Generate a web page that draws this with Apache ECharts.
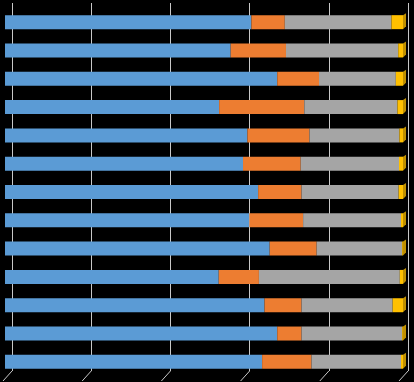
<!DOCTYPE html>
<html><head><meta charset="utf-8">
<script src="https://cdn.jsdelivr.net/npm/echarts@6/dist/echarts.min.js"></script>
<style>html,body{margin:0;padding:0;background:#000;}#c{width:414px;height:382px;}</style>
</head><body><div id="c"></div>
<script>
const categories = ["1","2","3","4","5","6","7","8","9","10","11","12","13"];
const blueValues   = [61.9, 56.7, 68.4, 53.8, 60.9, 59.8, 63.6, 61.4, 66.5, 53.7, 65.2, 68.4, 64.6];
const orangeValues = [ 8.4, 13.9, 10.5, 21.4, 15.6, 14.5, 10.9, 13.5, 11.8, 10.1,  9.3,  6.1, 12.4];
const grayValues   = [26.8, 28.2, 19.3, 23.4, 22.6, 24.7, 24.4, 24.6, 21.5, 35.4, 22.9, 25.3, 22.5];
const yellowValues = [ 2.9,  1.2,  1.8,  1.4,  0.9,  1.0,  1.1,  0.5,  0.2,  0.8,  2.6,  0.2,  0.5];
const tickValues = [0, 20, 40, 60, 80, 100];

const colors = ['#5B9BD5', '#ED7D31', '#A5A5A5', '#FFC000'];
const sideColors = ['#41729f', '#b05c24', '#7a7a7a', '#c09000'];
const seriesArrays = [blueValues, orangeValues, grayValues, yellowValues];

// end-cap data: [categoryIndex, total]
const capData = categories.map((c, i) => [seriesArrays.reduce((s, a) => s + a[i], 0), i]);
const lastColorIndex = categories.map((c, i) => {
  let k = 0; seriesArrays.forEach((a, j) => { if (a[i] > 0) k = j; }); return k;
});

const chart = echarts.init(document.getElementById('c'));
chart.setOption({
  backgroundColor: '#000000',
  animation: false,
  grid: [
    {left: 5, right: 11, top: 8, bottom: 6},
    {left: 12, right: 6, top: 3, bottom: 11}
  ],
  xAxis: [
    {gridIndex: 0, type: 'value', min: 0, max: 100, show: false},
    {gridIndex: 1, type: 'value', min: 0, max: 100, interval: 20,
     axisLine: {show: false}, axisTick: {show: false}, axisLabel: {show: false},
     splitLine: {show: true, lineStyle: {color: '#c8c8c8', width: 1}}}
  ],
  yAxis: [
    {gridIndex: 0, type: 'category', data: categories, inverse: true, show: false},
    {gridIndex: 1, type: 'value', min: 0, max: 1, show: false}
  ],
  series: [
    {
      type: 'custom', xAxisIndex: 1, yAxisIndex: 1, z: 1, silent: true,
      data: tickValues.map(v => [v, 0]),
      renderItem: (params, api) => {
        const p = api.coord([api.value(0), 0]);
        return {type: 'line', shape: {x1: p[0], y1: p[1], x2: p[0] - 9, y2: p[1] + 10},
                style: {stroke: '#c8c8c8', lineWidth: 1}};
      }
    },
    ...seriesArrays.map((arr, j) => ({
      type: 'bar', stack: 'total', xAxisIndex: 0, yAxisIndex: 0,
      data: arr, barWidth: 14, z: 3,
      itemStyle: {color: colors[j]}
    })),
    {
      type: 'custom', xAxisIndex: 0, yAxisIndex: 0, z: 4, silent: true,
      data: capData,
      renderItem: (params, api) => {
        const p = api.coord([api.value(0), api.value(1)]);
        const h = 14, d = 3;
        const top = p[1] - h / 2, bot = p[1] + h / 2;
        return {type: 'polygon',
          shape: {points: [[p[0], top], [p[0] + d, top - 2], [p[0] + d, bot - 3], [p[0], bot]]},
          style: {fill: sideColors[lastColorIndex[params.dataIndex]]}};
      }
    }
  ]
});
</script>
</body></html>
